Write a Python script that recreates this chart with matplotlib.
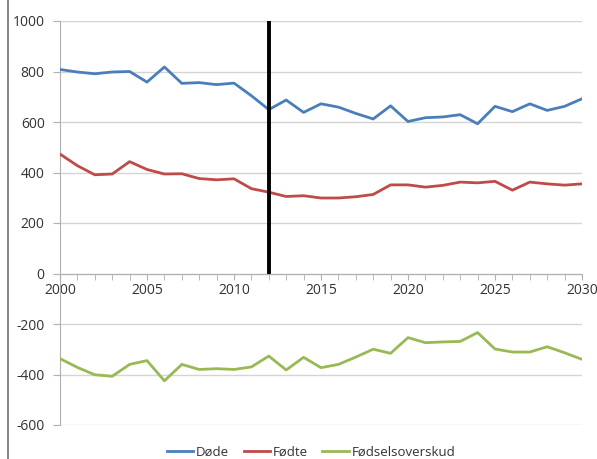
import matplotlib
matplotlib.use("Agg")
import matplotlib.pyplot as plt
from matplotlib.lines import Line2D
from matplotlib.ticker import MultipleLocator

plt.rcParams['font.family'] = ['Open Sans', 'DejaVu Sans']
plt.rcParams['axes.unicode_minus'] = False

years = list(range(2000, 2031))
dode = [808, 798, 791, 798, 800, 758, 818, 753, 756, 748, 754, 704, 649, 687, 638,
        672, 659, 634, 612, 664, 602, 617, 620, 629, 593, 662, 641, 672, 646, 662, 692]
fodte = [473, 427, 391, 394, 443, 412, 394, 395, 376, 371, 375, 336, 322, 305, 308,
         299, 299, 304, 313, 351, 351, 342, 349, 362, 359, 365, 330, 362, 355, 350, 355]
overskud = [-337, -372, -401, -407, -360, -345, -425, -360, -380, -377, -380, -370, -327, -382, -332,
            -373, -360, -331, -300, -316, -254, -274, -271, -269, -234, -299, -311, -311, -290, -314, -340]
labels = ['Døde', 'Fødte', 'Fødselsoverskud']
colors = ['#4A7EBB', '#BE4B48', '#98B954']
marker_year = 2012

fig = plt.figure(figsize=(5.97, 4.59), dpi=100)
ax = fig.add_axes([60/597, (459-425)/459, (582-60)/597, (425-21)/459])

for ser, lab, c in zip([dode, fodte, overskud], labels, colors):
    ax.plot(years, ser, color=c, lw=2.0, label=lab, solid_joinstyle='round', zorder=3)

ax.plot([marker_year, marker_year], [0, 1000], color='black', lw=2.8, zorder=4,
        solid_capstyle='butt')

ax.set_xlim(2000, 2030)
ax.set_ylim(-600, 1000)
ax.yaxis.set_major_locator(MultipleLocator(200))
ax.xaxis.set_major_locator(MultipleLocator(5))
ax.xaxis.set_minor_locator(MultipleLocator(1))
ax.grid(axis='y', color='#d4d4d4', lw=1.0, zorder=0)
ax.set_axisbelow(True)

for s in ['top', 'right']:
    ax.spines[s].set_visible(False)
ax.spines['bottom'].set_position(('data', 0))
ax.spines['bottom'].set_color('#b0b0b0')
ax.spines['left'].set_color('#b0b0b0')
ax.tick_params(axis='y', length=5, color='#b0b0b0', labelsize=10, labelcolor='#333333', pad=6)
ax.tick_params(axis='x', which='both', direction='out', length=4, color='#b0b0b0',
               labelsize=10, labelcolor='#333333', pad=3)

fig.legend(loc='center', bbox_to_anchor=(311/597, (459-452)/459), ncol=3, frameon=False,
           fontsize=9.5, handlelength=2.0, handletextpad=0.2, columnspacing=1.1, labelcolor='#333333')

fig.add_artist(Line2D([7.5/597, 7.5/597], [0, 1], color='#707070', lw=1.2))

fig.savefig('out.png', dpi=100)
